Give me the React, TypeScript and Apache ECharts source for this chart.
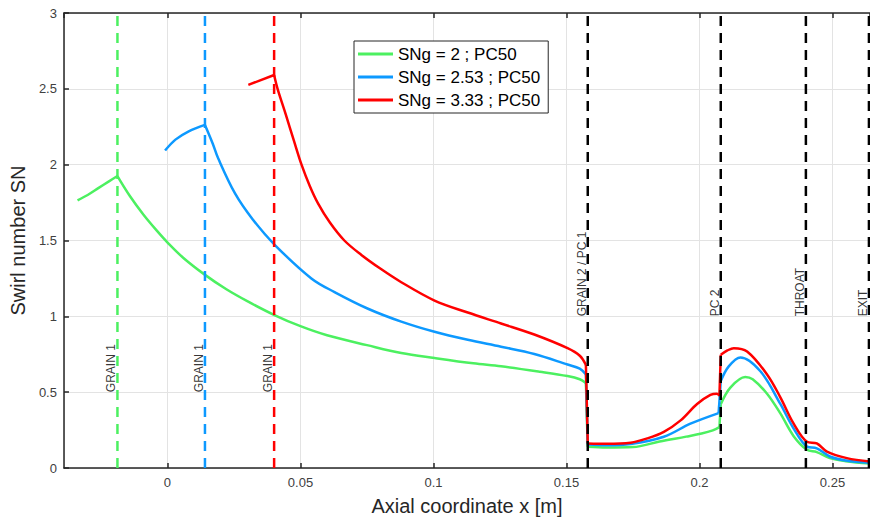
import React, { useEffect, useRef } from "react";
import * as echarts from "echarts";

// ---- data ----
const seriesNames = ["SNg = 2 ; PC50", "SNg = 2.53 ; PC50", "SNg = 3.33 ; PC50"];

const greenX = [-0.0338, -0.030, -0.026, -0.022, -0.0188, -0.014, -0.009, -0.004, 0.0004, 0.006, 0.014, 0.022, 0.030, 0.040, 0.050, 0.060, 0.075, 0.0879, 0.1004, 0.115, 0.1254, 0.140, 0.1504, 0.155, 0.1573, 0.158, 0.165, 0.175, 0.185, 0.195, 0.2008, 0.205, 0.2075, 0.208, 0.2116, 0.2172, 0.220, 0.2254, 0.2304, 0.2354, 0.2404, 0.2441, 0.249, 0.255, 0.264];
const greenY = [1.765, 1.80, 1.845, 1.89, 1.925, 1.79, 1.67, 1.565, 1.48, 1.385, 1.275, 1.18, 1.10, 1.01, 0.935, 0.875, 0.81, 0.758, 0.725, 0.69, 0.671, 0.635, 0.606, 0.585, 0.56, 0.14, 0.135, 0.138, 0.175, 0.207, 0.227, 0.248, 0.27, 0.42, 0.53, 0.60, 0.585, 0.49, 0.36, 0.21, 0.12, 0.105, 0.065, 0.045, 0.03];
const greenBreaks = [4, 24, 25, 32, 33];

const blueX = [-0.0009, 0.003, 0.008, 0.0141, 0.017, 0.0191, 0.0254, 0.032, 0.0404, 0.0541, 0.0628, 0.0754, 0.0879, 0.1004, 0.1129, 0.1254, 0.1379, 0.1504, 0.155, 0.1573, 0.158, 0.165, 0.1741, 0.1866, 0.1966, 0.2072, 0.208, 0.211, 0.2154, 0.2229, 0.2304, 0.2354, 0.2404, 0.2441, 0.249, 0.255, 0.264];
const blueY = [2.093, 2.165, 2.22, 2.262, 2.14, 2.04, 1.81, 1.64, 1.47, 1.25, 1.16, 1.05, 0.965, 0.898, 0.845, 0.80, 0.752, 0.682, 0.655, 0.617, 0.155, 0.15, 0.158, 0.206, 0.292, 0.362, 0.573, 0.67, 0.729, 0.638, 0.422, 0.26, 0.141, 0.13, 0.076, 0.05, 0.035];
const blueBreaks = [3, 19, 20, 25, 26];

const redX = [0.0304, 0.0401, 0.0414, 0.0445, 0.0475, 0.0504, 0.0535, 0.0566, 0.061, 0.0665, 0.0729, 0.080, 0.0879, 0.1004, 0.1129, 0.1254, 0.1379, 0.1504, 0.155, 0.1573, 0.158, 0.165, 0.1741, 0.1804, 0.1866, 0.1929, 0.1991, 0.2041, 0.2066, 0.2075, 0.208, 0.2105, 0.2129, 0.2179, 0.2254, 0.2304, 0.2354, 0.2404, 0.2441, 0.2479, 0.2554, 0.264];
const redY = [2.526, 2.591, 2.50, 2.33, 2.16, 2.00, 1.86, 1.745, 1.62, 1.50, 1.405, 1.315, 1.225, 1.104, 1.025, 0.953, 0.88, 0.79, 0.74, 0.68, 0.162, 0.16, 0.167, 0.195, 0.238, 0.314, 0.422, 0.482, 0.49, 0.476, 0.747, 0.775, 0.79, 0.768, 0.617, 0.466, 0.292, 0.173, 0.162, 0.108, 0.065, 0.043];
const redBreaks = [1, 19, 20, 29, 30];

const markerX = [-0.0188, 0.0141, 0.0401, 0.158, 0.208, 0.240, 0.2637];
const markerLabels = ["GRAIN 1", "GRAIN 1", "GRAIN 1", "GRAIN 2 / PC 1", "PC 2", "THROAT", "EXIT"];
const markerLabelY = [0.5, 0.5, 0.5, 1, 1, 1, 1];

const xMin = -0.0389;
const xMax = 0.2641;
const yMin = 0;
const yMax = 3;

// ---- styles ----
const curveColors = ["#4cf060", "#0d99ff", "#ff0000"];
const markerColors = ["#4cf060", "#0d99ff", "#ff0000", "#000000", "#000000", "#000000", "#000000"];
const FONT = "Liberation Sans, Arial, Helvetica, sans-serif";
const AXIS = "#262626";

function segments(xs: number[], ys: number[], breaks: number[]) {
  const bounds = [0, ...breaks, xs.length - 1];
  const out: number[][][] = [];
  for (let b = 0; b < bounds.length - 1; b++) {
    const seg: number[][] = [];
    for (let k = bounds[b]; k <= bounds[b + 1]; k++) seg.push([xs[k], ys[k]]);
    out.push(seg);
  }
  return out;
}

export default function App() {
  const ref = useRef<HTMLDivElement>(null);
  useEffect(() => {
    if (!ref.current) return;
    const chart = echarts.init(ref.current, undefined, { renderer: "svg" });
    const curveDefs: [number[], number[], number[]][] = [
      [greenX, greenY, greenBreaks],
      [blueX, blueY, blueBreaks],
      [redX, redY, redBreaks],
    ];
    const curves: any[] = [];
    curveDefs.forEach(([xs, ys, br], i) => {
      segments(xs, ys, br).forEach((seg) => {
        curves.push({
          name: seriesNames[i],
          type: "line",
          data: seg,
          symbol: "none",
          showSymbol: false,
          smooth: seg.length > 2 ? 0.35 : false,
          lineStyle: { color: curveColors[i], width: 2.5 },
          itemStyle: { color: curveColors[i] },
          z: 3,
          clip: true,
        });
      });
    });
    const markers = markerX.map((x, i) => ({
      name: "marker" + i,
      type: "line",
      data: [
        [x, yMin],
        [x, yMax],
      ],
      symbol: "none",
      silent: true,
      lineStyle: { color: markerColors[i], width: 2.5, type: [10, 7] },
      z: 4,
      clip: true,
    }));
    const labels = {
      name: "labels",
      type: "scatter",
      symbolSize: 1,
      itemStyle: { color: "rgba(0,0,0,0)" },
      silent: true,
      z: 5,
      data: markerX.map((x, i) => ({ value: [x, markerLabelY[i]], name: markerLabels[i] })),
      label: {
        show: true,
        formatter: (p: any) => p.name,
        position: "inside",
        rotate: 90,
        align: "left",
        verticalAlign: "bottom",
        color: "#000",
        fontSize: 12,
        fontFamily: FONT,
      },
    };
    chart.setOption({
      animation: false,
      backgroundColor: "#ffffff",
      textStyle: { fontFamily: FONT },
      grid: { left: 62, right: 0, top: 13, bottom: 46, containLabel: false },
      legend: {
        data: seriesNames,
        orient: "vertical",
        left: 354,
        top: 41,
        icon: "rect",
        itemWidth: 35,
        itemHeight: 3,
        itemGap: 3,
        padding: [3, 8, 3, 4],
        borderColor: AXIS,
        borderWidth: 1,
        borderRadius: 0,
        backgroundColor: "#ffffff",
        textStyle: { fontSize: 17, lineHeight: 20, color: "#000", fontFamily: FONT },
      },
      xAxis: [
        {
          type: "value",
          min: xMin,
          max: xMax,
          minInterval: 0.05,
          maxInterval: 0.05,
          name: "Axial coordinate x [m]",
          nameLocation: "middle",
          nameGap: 28,
          nameTextStyle: { fontSize: 20, color: AXIS, fontFamily: FONT },
          axisLine: { show: true, onZero: false, lineStyle: { color: AXIS, width: 1.5 } },
          axisTick: { show: true, inside: true, length: 5, lineStyle: { color: AXIS, width: 1.5 } },
          axisLabel: { showMinLabel: false, showMaxLabel: false, fontSize: 13, color: "#404040", margin: 8, fontFamily: FONT },
          splitLine: { show: true, lineStyle: { color: "#e3e3e3", width: 1 } },
        },
        {
          type: "value",
          position: "top",
          min: xMin,
          max: xMax,
          minInterval: 0.05,
          maxInterval: 0.05,
          axisLine: { show: true, onZero: false, lineStyle: { color: AXIS, width: 1.5 } },
          axisTick: { show: true, inside: true, length: 5, lineStyle: { color: AXIS, width: 1.5 } },
          axisLabel: { show: false },
          splitLine: { show: false },
        },
      ],
      yAxis: {
        type: "value",
        min: yMin,
        max: yMax,
        interval: 0.5,
        name: "Swirl number SN",
        nameLocation: "middle",
        nameGap: 21,
        nameTextStyle: { fontSize: 20, color: AXIS, fontFamily: FONT },
        axisLine: { show: true, onZero: false, lineStyle: { color: AXIS, width: 1.5 } },
        axisTick: { show: true, inside: true, length: 5, lineStyle: { color: AXIS, width: 1.5 } },
        axisLabel: { fontSize: 13, color: "#404040", margin: 7, fontFamily: FONT },
        splitLine: { show: true, lineStyle: { color: "#e3e3e3", width: 1 } },
      },
      series: [...curves, ...markers, labels],
    });
    return () => chart.dispose();
  }, []);
  return (
    <div
      ref={ref}
      style={{ position: "fixed", left: 0, top: 0, width: 870, height: 521, background: "#fff" }}
    />
  );
}
